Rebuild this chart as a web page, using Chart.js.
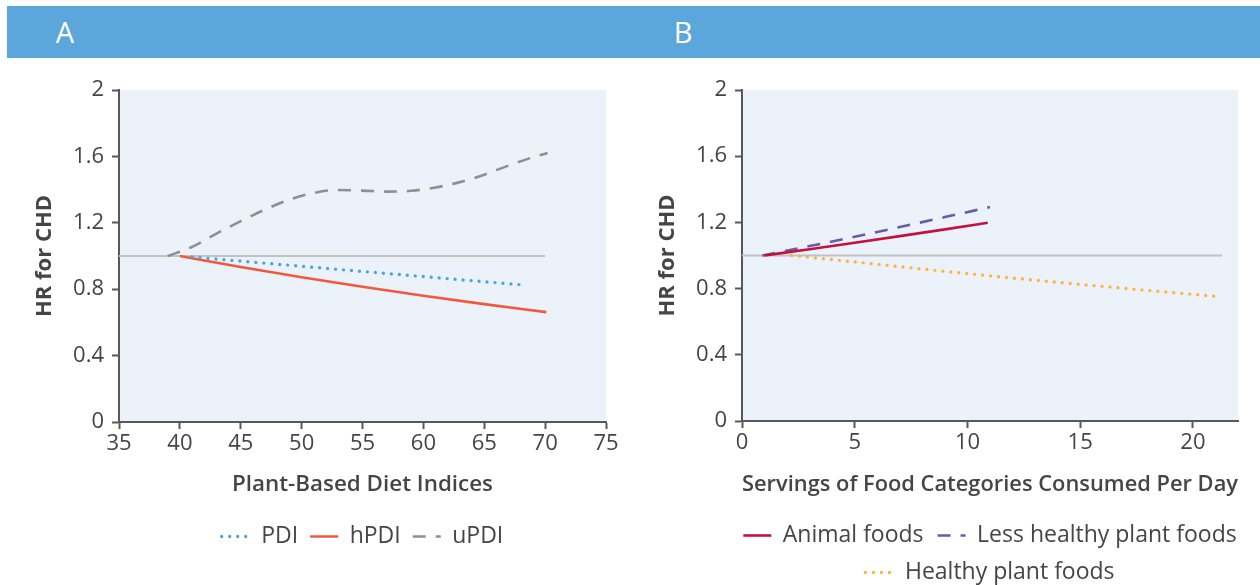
<!DOCTYPE html>
<html><head><meta charset="utf-8">
<script src="https://cdn.jsdelivr.net/npm/chart.js@4.4.1/dist/chart.umd.min.js"></script>
<style>
html,body{margin:0;padding:0;background:#fff;width:1260px;height:585px;overflow:hidden;position:relative;}
#bar{position:absolute;left:7px;top:6px;width:1253px;height:52px;background:#5BA6DA;}
.lab{position:absolute;top:0;width:40px;text-align:center;height:52px;line-height:52px;color:#fff;font-size:29px;font-family:"Open Sans",sans-serif;}
#cA{position:absolute;left:0;top:60px;}
#cB{position:absolute;left:630px;top:60px;}
</style></head><body>
<div id="bar"><span class="lab" style="left:38px">A</span><span class="lab" style="left:656px">B</span></div>
<canvas id="cA" width="630" height="525"></canvas>
<canvas id="cB" width="630" height="525"></canvas>
<script>
// ---------- Panel A data ----------
const pdiX  = [41, 45, 50, 55, 60, 65, 68.3];
const pdiY  = [0.994, 0.969, 0.938, 0.907, 0.876, 0.845, 0.825];
const hpdiX = [40, 45, 50, 55, 60, 65, 70.1];
const hpdiY = [1.0, 0.934, 0.872, 0.815, 0.761, 0.710, 0.662];
const updiX = [39, 41, 43, 45, 47, 49, 51, 53, 55, 57, 59, 61, 63, 65, 67, 69, 70.2];
const updiY = [1.0, 1.055, 1.135, 1.21, 1.28, 1.34, 1.38, 1.398, 1.394, 1.388, 1.393, 1.413, 1.445, 1.49, 1.545, 1.595, 1.62];
const refAX = [35, 70];
const refAY = [1, 1];
const xTicksA = [35, 40, 45, 50, 55, 60, 65, 70, 75];
const xTitleA = 'Plant-Based Diet Indices';

// ---------- Panel B data ----------
const animalX  = [1, 3, 5, 7, 9, 10.9];
const animalY  = [1.0, 1.038, 1.077, 1.117, 1.158, 1.198];
const lessX    = [0.9, 3, 5, 7, 9, 11];
const lessY    = [1.0, 1.057, 1.113, 1.172, 1.232, 1.293];
const healthyX = [2.2, 5, 8, 11, 14, 17, 20, 21.2];
const healthyY = [1.0, 0.961, 0.918, 0.877, 0.838, 0.801, 0.765, 0.751];
const refBX = [0, 21.3];
const refBY = [1, 1];
const xTicksB = [0, 5, 10, 15, 20];
const xTitleB = 'Servings of Food Categories Consumed Per Day';

const yTicks = [0, 0.4, 0.8, 1.2, 1.6, 2];
const yTickLabels = ['0', '0.4', '0.8', '1.2', '1.6', '2'];
const yTitle = 'HR for CHD';
const REF = 'reference';

const FONT = '"Open Sans", "Noto Sans", sans-serif';
const TXT = '#454545', AX = '#585858';

const pts = (xs, ys) => xs.map((x, i) => ({x: x, y: ys[i]}));

function ds(label, xs, ys, color, style) {
  const d = {label, data: pts(xs, ys), borderColor: color, backgroundColor: color,
    pointRadius: 0, pointHoverRadius: 0, fill: false, cubicInterpolationMode: 'monotone',
    borderWidth: 2.6, borderCapStyle: 'butt', borderDash: []};
  if (style === 'dot') Object.assign(d, {borderDash: [0, 8], borderCapStyle: 'round', borderWidth: 3.4});
  if (style === 'dash') Object.assign(d, {borderDash: [13, 10]});
  return d;
}
function refDs(xs, ys) {
  return {label: REF, data: pts(xs, ys), borderColor: '#C2C2C2', backgroundColor: '#C2C2C2',
    borderWidth: 2, pointRadius: 0, pointHoverRadius: 0, tension: 0, fill: false};
}

function legendLabels(chart) {
  return chart.data.datasets.map((d, i) => ({
    text: d.label, datasetIndex: i, hidden: false,
    fillStyle: 'rgba(0,0,0,0)', strokeStyle: d.borderColor, fontColor: TXT,
    lineWidth: d.borderWidth, lineDash: d.borderDash || [], lineDashOffset: 0,
    lineCap: d.borderCapStyle, lineJoin: 'round', pointStyle: 'line', rotation: 0
  })).filter(it => it.text !== REF);
}

const panelPlugin = {
  id: 'panel',
  beforeDraw(chart) {
    const {ctx, chartArea: a} = chart;
    ctx.save();
    ctx.fillStyle = '#EBF2FA';
    ctx.fillRect(a.left, a.top, a.right - a.left, a.bottom - a.top);
    ctx.restore();
  },
  afterLayout(chart, args, o) {
    const L = chart.legend;
    if (!L) return;
    const w = L.right - L.left, h = L.bottom - L.top;
    L.left = o.cx - w / 2; L.right = o.cx + w / 2;
    L.top = o.top; L.bottom = o.top + h;
  }
};

function makeOptions(p) {
  return {
    responsive: false, animation: false, devicePixelRatio: 1,
    layout: {padding: {left: 0, right: p.padRight, top: 30, bottom: 0}},
    plugins: {
      legend: {display: true, position: 'bottom',
        labels: {usePointStyle: true, pointStyle: 'line', pointStyleWidth: 28, color: TXT,
          font: {family: FONT, size: 23}, padding: p.legendPad,
          generateLabels: legendLabels}},
      tooltip: {enabled: false},
      panel: {cx: p.cx, top: p.legendTop}
    },
    scales: {
      x: {type: 'linear', position: 'bottom', min: p.xmin, max: p.xmax,
        afterBuildTicks: s => { s.ticks = p.xTicks.map(v => ({value: v})); },
        afterFit: s => { s.height = p.xH; },
        ticks: {color: TXT, font: {family: FONT, size: 22}, padding: 2, maxRotation: 0, autoSkip: false},
        grid: {drawOnChartArea: false, drawTicks: true, tickLength: 7, tickWidth: 2, tickColor: AX},
        border: {color: AX, width: 2},
        title: {display: true, text: p.xTitle, color: TXT, font: {family: FONT, size: 22.4, weight: '600'},
          padding: {top: 0, bottom: p.xTitlePad}}
      },
      y: {type: 'linear', position: 'left', min: 0, max: 2,
        afterBuildTicks: s => { s.ticks = yTicks.map(v => ({value: v})); },
        afterFit: s => { s.width = p.yW; },
        ticks: {color: TXT, font: {family: FONT, size: 22}, padding: 8, autoSkip: false,
          callback: (v, i) => yTickLabels[i]},
        grid: {drawOnChartArea: false, drawTicks: true, tickLength: 7, tickWidth: 2, tickColor: AX},
        border: {color: AX, width: 2},
        title: {display: true, text: yTitle, color: TXT, font: {family: FONT, size: 22, weight: 'bold'},
          padding: {top: p.yTitlePad, bottom: 0}}
      }
    }
  };
}

new Chart(document.getElementById('cA'), {
  type: 'line',
  data: {datasets: [
    ds('PDI', pdiX, pdiY, '#4DA3E0', 'dot'),
    ds('hPDI', hpdiX, hpdiY, '#F2593A', 'solid'),
    ds('uPDI', updiX, updiY, '#8F8F8F', 'dash'),
    refDs(refAX, refAY)
  ]},
  options: makeOptions({xmin: 35, xmax: 75, xTicks: xTicksA, xTitle: xTitleA, padRight: 24,
    legendPad: 12, cx: 362.5, legendTop: 453, xH: 118, xTitlePad: 42, yW: 119, yTitlePad: 32}),
  plugins: [panelPlugin]
});

new Chart(document.getElementById('cB'), {
  type: 'line',
  data: {datasets: [
    ds('Animal foods', animalX, animalY, '#C4123F', 'solid'),
    ds('Less healthy plant foods', lessX, lessY, '#6A5BA8', 'dash'),
    ds('Healthy plant foods', healthyX, healthyY, '#FDB444', 'dot'),
    refDs(refBX, refBY)
  ]},
  options: makeOptions({xmin: 0, xmax: 22, xTicks: xTicksB, xTitle: xTitleB, padRight: 22,
    legendPad: 14, cx: 360, legendTop: 450, xH: 80, xTitlePad: 3, yW: 112, yTitlePad: 25}),
  plugins: [panelPlugin]
});
</script>
</body></html>
